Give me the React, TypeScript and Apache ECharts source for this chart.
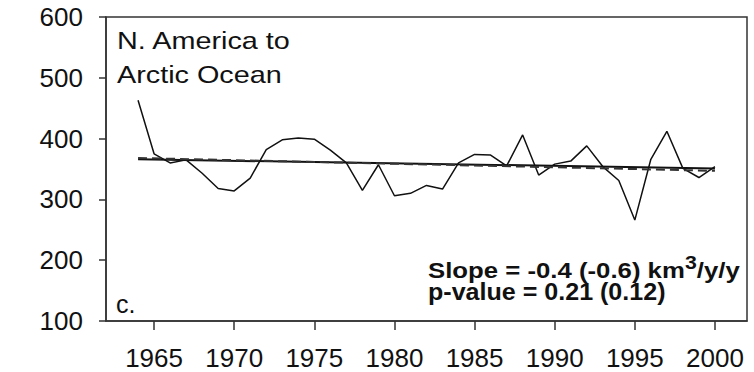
import React, { useEffect, useRef } from "react";
import * as echarts from "echarts";

const years = [1964, 1965, 1966, 1967, 1968, 1969, 1970, 1971, 1972, 1973, 1974, 1975, 1976, 1977, 1978, 1979, 1980, 1981, 1982, 1983, 1984, 1985, 1986, 1987, 1988, 1989, 1990, 1991, 1992, 1993, 1994, 1995, 1996, 1997, 1998, 1999, 2000];
const discharge = [463, 375, 360, 365, 343, 318, 314, 335, 382, 398, 401, 399, 381, 360, 315, 357, 306, 310, 323, 317, 360, 374, 373, 355, 406, 340, 358, 363, 388, 354, 331, 266, 366, 412, 351, 336, 354];
const trendSolid = [[1964, 366], [2000, 351]];
const trendDashed = [[1964, 368], [2000, 347]];
const xTickLabels = [1965, 1970, 1975, 1980, 1985, 1990, 1995, 2000];
const yTicks = [100, 200, 300, 400, 500, 600];

const FONT = "'Liberation Sans', Arial, Helvetica, sans-serif";

export default function App() {
  const ref = useRef<HTMLDivElement>(null);
  useEffect(() => {
    if (!ref.current) return;
    const chart = echarts.init(ref.current, null, { renderer: "svg" });
    const lineData = years.map((y, i) => [y, discharge[i]]);
    chart.setOption({
      animation: false,
      backgroundColor: "#ffffff",
      grid: {
        left: 106,
        right: 7,
        top: 17,
        bottom: 51,
        show: true,
        borderColor: "#333",
        borderWidth: 1.5,
        backgroundColor: "transparent",
      },
      xAxis: {
        type: "value",
        min: 1962,
        max: 2002,
        splitLine: { show: false },
        axisLine: { show: true, lineStyle: { color: "#333", width: 1.5 } },
        axisTick: {
          show: true,
          inside: false,
          length: 9,
          customValues: xTickLabels,
          lineStyle: { color: "#333", width: 1.5 },
        },
        axisLabel: {
          customValues: xTickLabels,
          fontSize: 26,
          fontFamily: FONT,
          color: "#111",
          margin: 24,
          formatter: (v: number) => String(v),
        },
      },
      yAxis: {
        type: "value",
        min: yTicks[0],
        max: yTicks[yTicks.length - 1],
        interval: 100,
        splitLine: { show: false },
        axisLine: { show: true, lineStyle: { color: "#333", width: 1.5 } },
        axisTick: { show: true, inside: false, length: 7, lineStyle: { color: "#333", width: 1.5 } },
        axisLabel: {
          fontSize: 26,
          fontFamily: FONT,
          color: "#111",
          margin: 23,
        },
      },
      series: [
        {
          type: "line",
          data: lineData,
          showSymbol: false,
          lineStyle: { color: "#111", width: 1.5 },
          z: 3,
        },
        {
          type: "line",
          data: trendSolid,
          showSymbol: false,
          lineStyle: { color: "#111", width: 2 },
          z: 4,
        },
        {
          type: "line",
          data: trendDashed,
          showSymbol: false,
          lineStyle: { color: "#333", width: 2, type: [9, 5] },
          z: 5,
        },
      ],
      graphic: [
        {
          type: "text",
          x: 117,
          y: 41,
          scaleX: 1.2,
          style: {
            text: "N. America to",
            fontSize: 24,
            fontFamily: FONT,
            fill: "#111",
            verticalAlign: "middle",
            align: "left",
          },
        },
        {
          type: "text",
          x: 117,
          y: 75,
          scaleX: 1.2,
          style: {
            text: "Arctic Ocean",
            fontSize: 24,
            fontFamily: FONT,
            fill: "#111",
            verticalAlign: "middle",
            align: "left",
          },
        },
        {
          type: "text",
          x: 116,
          y: 304,
          style: {
            text: "c.",
            fontSize: 25,
            fontFamily: FONT,
            fill: "#111",
            verticalAlign: "middle",
            align: "left",
          },
        },
        {
          type: "text",
          x: 428,
          y: 267,
          scaleX: 1.12,
          style: {
            text: "{b|Slope = -0.4 (-0.6) km}{s|3}{b|/y/y}",
            fontFamily: FONT,
            fill: "#111",
            verticalAlign: "middle",
            align: "left",
            rich: {
              b: { fontSize: 23, lineHeight: 29, fontWeight: "bold", fontFamily: FONT, fill: "#111", verticalAlign: "bottom" },
              s: { fontSize: 19, lineHeight: 19, fontWeight: "bold", fontFamily: FONT, fill: "#111", verticalAlign: "top" },
            },
          },
        },
        {
          type: "text",
          x: 428,
          y: 292,
          scaleX: 1.09,
          style: {
            text: "p-value = 0.21 (0.12)",
            fontSize: 23,
            fontWeight: "bold",
            fontFamily: FONT,
            fill: "#111",
            verticalAlign: "middle",
            align: "left",
          },
        },
      ],
    });
    return () => chart.dispose();
  }, []);
  return (
    <div
      ref={ref}
      style={{ position: "fixed", left: 0, top: 0, width: 754, height: 372, background: "#fff" }}
    />
  );
}
